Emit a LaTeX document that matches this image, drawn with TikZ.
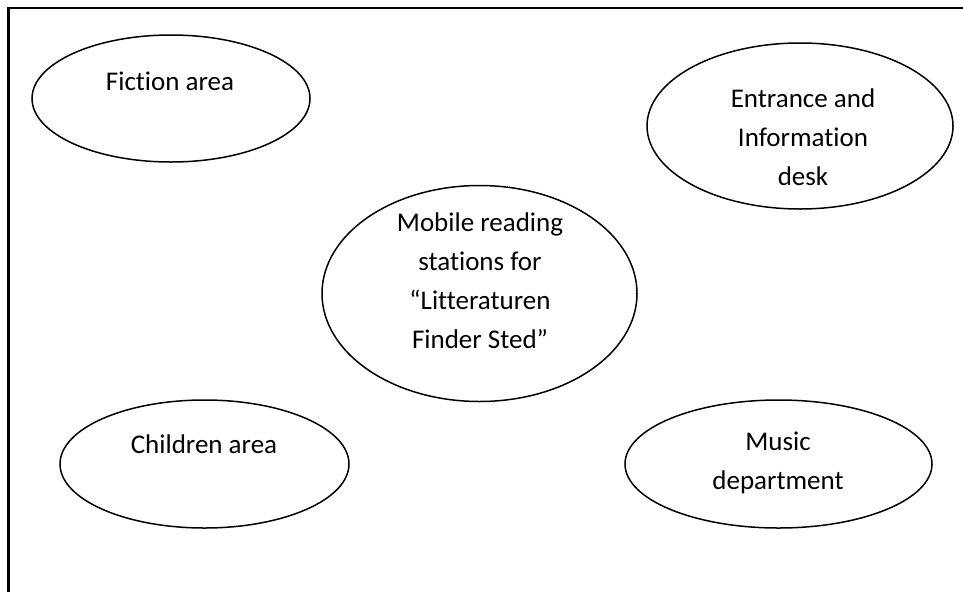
\documentclass[tikz,border=0pt]{standalone}
\usepackage{fontspec}
\setmainfont[Ligatures={NoCommon}]{Carlito}
\usetikzlibrary{shapes.geometric}
\begin{document}
\begin{tikzpicture}[x=1pt,y=-1pt,
  zone/.style={draw=black, line width=1.5pt, ellipse, inner sep=0pt},
  caption/.style={align=center, font=\fontsize{27}{39}\selectfont, inner sep=0pt}]
  \useasboundingbox (0,0) rectangle (963,592);
  % frame: only top and left edges
  \coordinate (ftop) at (963,8);
  \coordinate (fcorner) at (8.5,8);
  \coordinate (fbottom) at (8.5,592);
  \draw[line width=2.4pt] (ftop) -- (fcorner) -- (fbottom);

  % areas
  \node[zone, minimum width=278, minimum height=127] (fiction) at (171,98.5) {};
  \node[zone, minimum width=306, minimum height=166] (entrance) at (800,126) {};
  \node[zone, minimum width=315, minimum height=216] (mobile) at (479.5,293.5) {};
  \node[zone, minimum width=289, minimum height=128] (children) at (204.5,464) {};
  \node[zone, minimum width=307, minimum height=128] (music) at (778.5,464) {};

  % labels
  \node[caption] (tfiction) at (170,81) {Fiction area};
  \node[caption] (tentrance) at (803,137) {Entrance and\\Information\\desk};
  \node[caption] (tmobile) at (480,281) {Mobile reading\\stations for\\“Litteraturen\\Finder Sted”};
  \node[caption] (tchildren) at (204,444) {Children area};
  \node[caption] (tmusic) at (778,463) {Music\\department};
\end{tikzpicture}
\end{document}
